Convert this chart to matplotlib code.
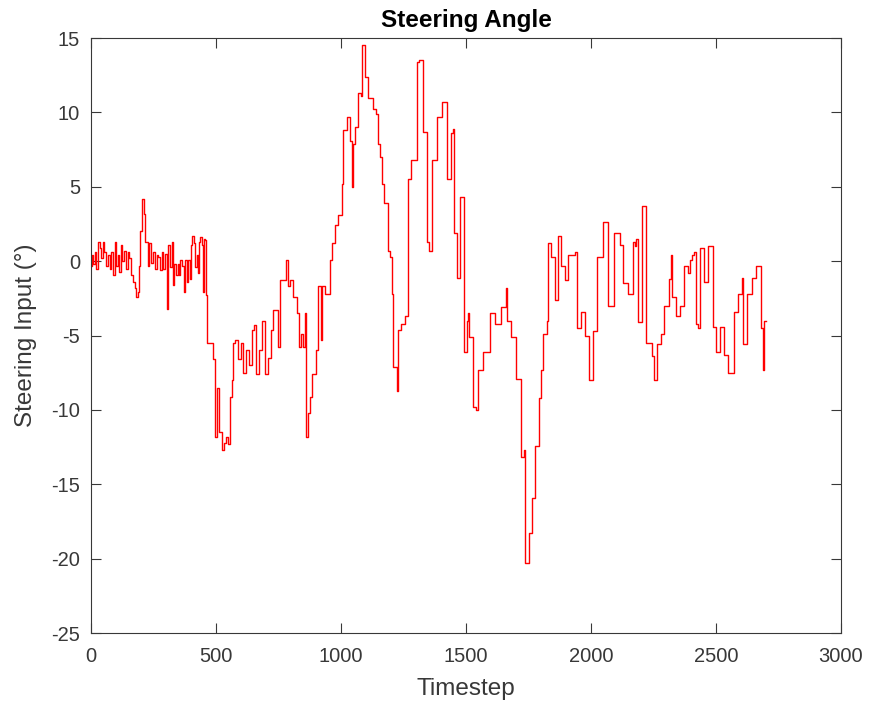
import numpy as np
import matplotlib
matplotlib.use("Agg")
import matplotlib.pyplot as plt

# Steering angle breakpoints (timestep, degrees); value holds until next step
timestep = [
    0, 4, 8, 16, 20, 28, 36, 40, 48, 52, 60, 68, 76, 80, 88, 96, 100, 108, 112, 120,
    124, 132, 140, 148, 152, 160, 168, 176, 180, 188, 192, 196, 204, 212, 216, 228, 232, 240, 248, 256,
    264, 268, 276, 284, 288, 296, 304, 308, 316, 324, 328, 332, 340, 348, 352, 356, 364, 372, 376, 384,
    388, 396, 400, 404, 412, 416, 424, 428, 432, 436, 444, 448, 452, 456, 460, 464, 488, 496, 504, 512,
    524, 532, 540, 548, 556, 564, 568, 576, 588, 600, 608, 620, 632, 644, 652, 660, 672, 684, 696, 708,
    720, 728, 748, 756, 780, 788, 796, 808, 824, 832, 840, 848, 856, 860, 868, 876, 884, 900, 908, 920,
    924, 936, 956, 964, 976, 988, 1004, 1008, 1024, 1036, 1044, 1048, 1056, 1068, 1080, 1084, 1096, 1108, 1128, 1140,
    1148, 1156, 1164, 1172, 1188, 1196, 1204, 1208, 1224, 1228, 1240, 1256, 1268, 1280, 1304, 1312, 1328, 1344, 1352, 1364,
    1384, 1404, 1424, 1440, 1448, 1452, 1464, 1476, 1492, 1504, 1508, 1512, 1528, 1540, 1548, 1568, 1596, 1616, 1640, 1660,
    1664, 1680, 1700, 1720, 1732, 1736, 1752, 1764, 1776, 1792, 1800, 1808, 1824, 1828, 1840, 1856, 1868, 1880, 1896, 1908,
    1936, 1944, 1960, 1976, 1992, 2008, 2024, 2048, 2068, 2092, 2116, 2128, 2148, 2168, 2176, 2180, 2188, 2204, 2220, 2244,
    2252, 2264, 2280, 2292, 2312, 2320, 2324, 2340, 2356, 2372, 2388, 2396, 2404, 2412, 2420, 2428, 2436, 2452, 2468, 2488,
    2500, 2516, 2532, 2548, 2572, 2588, 2604, 2608, 2624, 2644, 2660, 2680, 2688, 2692, 2700,
]
steering = [
    -0.3, 0.4, -0.2, 0.6, -0.5, 1.3, 0.9, 0.2, 1.3, 0.6, -0.3, 0.4, -0.5, 0.6, -0.9, 1.3, -0.3, 0.4, -0.7, 1.1,
    0.0, 0.7, -0.5, 0.6, 0.2, -0.9, -1.4, -1.8, -2.4, -2.1, -0.3, 2.0, 4.2, 3.2, 1.3, -0.3, 1.2, -0.1, 0.6, -0.5,
    0.4, 0.3, -0.6, 0.6, -0.5, 0.5, -3.2, 1.1, -0.4, 1.3, -1.6, -0.2, -0.9, -0.2, -0.9, 0.1, -0.3, -2.1, 0.1, -1.4,
    0.1, -1.2, 1.1, 1.7, 1.2, -0.4, 0.4, -0.8, 1.3, 1.6, 1.1, -2.1, 1.5, 1.4, -2.3, -5.5, -6.6, -11.8, -8.5, -11.5,
    -12.7, -12.2, -11.8, -12.3, -9.1, -8.0, -5.5, -5.3, -6.6, -5.5, -7.5, -6.0, -7.0, -4.6, -4.3, -7.6, -6.0, -4.0, -7.6, -6.5,
    -4.6, -3.3, -5.8, -1.3, 0.1, -1.7, -1.3, -2.4, -3.5, -5.8, -4.9, -5.8, -3.5, -11.8, -10.2, -9.1, -7.6, -6.0, -1.7, -5.3,
    -1.7, -2.2, 0.1, 1.2, 2.4, 3.1, 5.2, 8.8, 9.7, 8.1, 5.0, 7.9, 9.0, 11.3, 11.1, 14.5, 12.4, 11.0, 10.2, 9.9,
    7.9, 7.0, 5.2, 3.9, 0.7, 0.3, -2.2, -7.1, -8.7, -4.6, -4.2, -3.7, 5.5, 6.8, 13.4, 13.5, 8.7, 1.3, 0.7, 6.8,
    9.7, 10.7, 5.5, 8.6, 8.9, 1.9, -1.1, 4.3, -6.1, -4.0, -3.5, -5.1, -9.8, -10.0, -7.3, -6.1, -3.5, -4.2, -3.1, -1.8,
    -4.0, -5.1, -7.9, -13.2, -12.7, -20.3, -18.3, -15.9, -12.4, -9.2, -7.3, -4.9, -4.0, 1.2, 0.3, -2.6, 1.7, -0.3, -1.3, 0.4,
    0.6, -4.5, -3.4, -5.0, -8.0, -4.7, 0.3, 2.6, -3.0, 1.9, 1.1, -1.5, -2.2, 1.3, 1.0, 1.5, -4.1, 3.7, -5.5, -6.4,
    -8.0, -5.6, -4.9, -3.0, -1.2, 0.4, -2.4, -3.7, -3.0, -0.3, -0.8, 0.1, 0.4, 0.6, -4.2, -4.5, 0.9, -1.4, 1.0, -4.4,
    -6.1, -4.4, -6.3, -7.5, -3.4, -2.2, -1.1, -5.6, -2.2, -1.1, -0.3, -4.5, -7.3, -4.0, -4.0,
]

plt.rcParams['font.family'] = ['Liberation Sans', 'DejaVu Sans']
plt.rcParams['axes.unicode_minus'] = False
text_color = '#383838'

fig = plt.figure(figsize=(8.71, 7.08), dpi=100)
ax = fig.add_axes([0.1045, 0.1059, 0.861, 0.8404])

ax.plot(timestep, steering, color='red', linewidth=1.0, drawstyle='steps-post')

ax.set_xlim(0, 3000)
ax.set_ylim(-25, 15)
ax.set_xticks(np.arange(0, 3001, 500))
ax.set_yticks(np.arange(-25, 16, 5))

ax.tick_params(direction='in', top=True, right=True, length=7, width=0.8,
               colors=text_color, labelsize=14.5)
ax.tick_params(axis='x', pad=10)
ax.tick_params(axis='y', pad=8)
for spine in ax.spines.values():
    spine.set_color(text_color)
    spine.set_linewidth(0.8)

ax.set_xlabel('Timestep', fontsize=17.5, color=text_color, labelpad=9)
ax.set_ylabel('Steering Input (°)', fontsize=17.5, color=text_color, labelpad=10)
ax.set_title('Steering Angle', fontsize=17.5, fontweight='bold', color='black', pad=8)

fig.savefig('out.png', dpi=100, facecolor='white')
